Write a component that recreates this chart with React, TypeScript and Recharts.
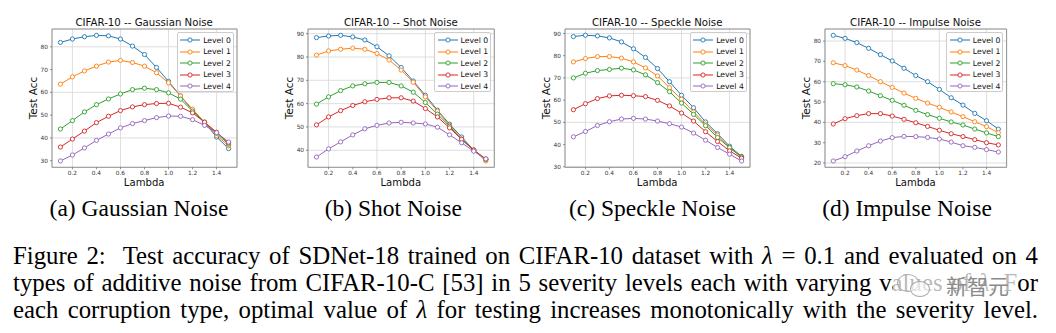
import React from 'react';
import { LineChart, Line, XAxis, YAxis, CartesianGrid, ReferenceArea } from 'recharts';

const lambdas = [0.1, 0.2, 0.3, 0.4, 0.5, 0.6, 0.7, 0.8, 0.9, 1.0, 1.1, 1.2, 1.3, 1.4, 1.5];
const xTicks = [0.2, 0.4, 0.6, 0.8, 1.0, 1.2, 1.4];
const levelNames = ['Level 0', 'Level 1', 'Level 2', 'Level 3', 'Level 4'];
const levelColors = ['#1f77b4', '#ff7f0e', '#2ca02c', '#d62728', '#9467bd'];

const gaussianL0 = [81.9, 83.4, 84.4, 85.0, 84.8, 83.4, 80.3, 76.6, 70.9, 64.8, 58.4, 52.1, 46.7, 40.4, 35.3];
const gaussianL1 = [63.6, 66.8, 69.4, 71.5, 73.3, 74.0, 73.1, 71.5, 68.6, 64.2, 58.4, 52.6, 46.9, 41.1, 36.5];
const gaussianL2 = [43.9, 47.6, 51.4, 54.6, 57.1, 59.3, 61.2, 61.8, 61.2, 59.8, 57.0, 51.8, 46.9, 42.0, 37.2];
const gaussianL3 = [36.0, 39.5, 43.0, 46.7, 49.5, 52.0, 53.6, 54.6, 55.1, 55.2, 53.5, 51.0, 46.9, 42.5, 37.8];
const gaussianL4 = [29.9, 32.5, 35.6, 38.9, 41.7, 44.4, 46.3, 47.6, 48.9, 49.6, 49.5, 48.0, 45.5, 42.3, 38.2];

const shotL0 = [88.3, 89.0, 89.3, 88.6, 87.3, 84.4, 80.5, 75.5, 69.7, 63.6, 57.2, 51.2, 45.7, 40.1, 36.1];
const shotL1 = [80.8, 82.6, 83.3, 83.8, 83.3, 81.5, 78.7, 74.4, 69.2, 62.9, 56.8, 50.7, 44.9, 40.1, 35.4];
const shotL2 = [59.8, 62.9, 65.6, 67.6, 68.5, 69.1, 69.1, 67.6, 64.9, 60.5, 55.5, 50.3, 44.6, 40.0, 36.0];
const shotL3 = [50.9, 54.3, 57.0, 59.2, 60.8, 61.8, 62.5, 62.5, 61.1, 57.9, 54.3, 49.6, 44.7, 40.1, 36.3];
const shotL4 = [37.1, 40.6, 43.6, 46.6, 49.2, 50.7, 51.7, 52.0, 51.7, 51.3, 49.9, 46.6, 43.2, 39.6, 36.3];

const speckleL0 = [88.6, 89.2, 88.9, 88.0, 86.2, 83.1, 79.2, 74.2, 68.3, 62.2, 56.6, 50.2, 44.9, 39.3, 34.7];
const speckleL1 = [77.2, 78.7, 79.6, 79.6, 78.9, 77.2, 74.5, 70.9, 65.6, 60.4, 54.7, 49.2, 44.3, 38.7, 34.4];
const speckleL2 = [70.0, 72.1, 73.3, 73.8, 74.4, 73.6, 71.4, 67.9, 63.8, 58.7, 53.6, 48.5, 43.2, 38.6, 34.4];
const speckleL3 = [55.7, 58.4, 60.7, 61.9, 62.2, 62.0, 61.6, 59.9, 57.4, 54.2, 50.6, 45.8, 41.4, 37.2, 33.9];
const speckleL4 = [43.5, 45.9, 48.6, 50.3, 51.5, 51.8, 51.5, 50.6, 49.4, 47.9, 45.2, 42.0, 38.7, 35.7, 32.6];

const impulseL0 = [82.8, 81.3, 79.2, 76.4, 73.3, 70.2, 66.6, 63.0, 60.0, 56.2, 52.1, 48.5, 44.4, 40.8, 36.7];
const impulseL1 = [69.3, 67.9, 65.7, 63.0, 60.0, 57.2, 54.4, 51.8, 49.5, 47.4, 45.1, 42.8, 40.3, 37.9, 34.9];
const impulseL2 = [59.0, 58.5, 57.4, 55.4, 53.1, 50.8, 48.4, 45.9, 43.8, 42.0, 40.2, 38.7, 36.7, 34.8, 33.0];
const impulseL3 = [39.2, 41.8, 43.3, 44.3, 44.3, 43.1, 41.5, 39.8, 38.0, 36.1, 34.4, 33.0, 31.5, 30.0, 28.9];
const impulseL4 = [21.0, 23.1, 25.9, 28.5, 30.8, 32.5, 33.1, 33.0, 32.6, 31.8, 30.3, 28.5, 27.7, 26.6, 25.4];

const gaussianTicks = [30, 40, 50, 60, 70, 80];
const shotTicks = [40, 50, 60, 70, 80, 90];
const speckleTicks = [30, 40, 50, 60, 70, 80, 90];
const impulseTicks = [20, 30, 40, 50, 60, 70, 80];

const SANS = '"DejaVu Sans", sans-serif';
const SERIF = '"Liberation Serif", "Times New Roman", serif';
const X_DOMAIN: [number, number] = [0.03, 1.57];
const TOP = 29;
const BOTTOM = 167.3;
const CH = 200;

type PanelProps = {
  title: string;
  series: number[][];
  yDomain: [number, number];
  yTicks: number[];
  frameL: number;
  frameR: number;
  caption: string;
  captionX: number;
};

function Panel({ title, series, yDomain, yTicks, frameL, frameR, caption, captionX }: PanelProps) {
  const data = lambdas.map((x, i) => {
    const row: Record<string, number> = { x };
    series.forEach((s, k) => {
      row['l' + k] = s[i];
    });
    return row;
  });
  const fw = frameR - frameL;
  const chartW = fw + 35;
  const legendW = 57;
  const legendL = frameR - 3 - legendW;
  return (
    <>
      <div style={{ position: 'absolute', left: frameL - 30, top: 0 }}>
        <LineChart
          width={chartW}
          height={CH}
          data={data}
          margin={{ top: TOP, right: 5, left: 10, bottom: CH - BOTTOM - 20 }}
        >
          <CartesianGrid stroke="#d6d6d6" strokeWidth={0.8} />
          <XAxis
            dataKey="x"
            type="number"
            domain={X_DOMAIN}
            ticks={xTicks}
            allowDataOverflow
            tickFormatter={(v: number) => v.toFixed(1)}
            tick={{ fontSize: 5.8, fill: '#333', fontFamily: SANS }}
            tickSize={2}
            tickLine={{ stroke: '#666', strokeWidth: 0.7 }}
            axisLine={false}
            height={20}
          />
          <YAxis
            type="number"
            domain={yDomain}
            ticks={yTicks}
            allowDataOverflow
            tick={{ fontSize: 5.8, fill: '#333', fontFamily: SANS }}
            tickSize={2}
            tickLine={{ stroke: '#666', strokeWidth: 0.7 }}
            axisLine={false}
            width={20}
          />
          {series.map((_, k) => (
            <Line
              key={k}
              type="linear"
              dataKey={'l' + k}
              stroke={levelColors[k]}
              strokeWidth={1}
              dot={{ r: 2.1, fill: '#fff', stroke: levelColors[k], strokeWidth: 0.9 }}
              isAnimationActive={false}
            />
          ))}
          <ReferenceArea
            x1={X_DOMAIN[0]}
            x2={X_DOMAIN[1]}
            y1={yDomain[0]}
            y2={yDomain[1]}
            fill="none"
            fillOpacity={0}
            stroke="#8a8a8a"
            strokeWidth={0.9}
          />
        </LineChart>
      </div>
      <div
        style={{
          position: 'absolute', left: frameL, width: fw, top: 16.7, height: 12, lineHeight: '12px',
          textAlign: 'center', fontFamily: SANS, fontSize: 10.2, color: '#111', whiteSpace: 'nowrap',
        }}
      >
        {title}
      </div>
      <div
        style={{
          position: 'absolute', left: frameL, width: fw, top: 176.7, height: 12, lineHeight: '12px',
          textAlign: 'center', fontFamily: SANS, fontSize: 10.1, color: '#111',
        }}
      >
        Lambda
      </div>
      <div
        style={{
          position: 'absolute', left: frameL - 19 - 30, top: 98 - 6, width: 60, height: 12, lineHeight: '12px',
          textAlign: 'center', fontFamily: SANS, fontSize: 10.5, color: '#111', transform: 'rotate(-90deg)',
        }}
      >
        Test Acc
      </div>
      <div
        style={{
          position: 'absolute', left: legendL, top: 32, width: legendW, height: 60, boxSizing: 'border-box',
          border: '0.8px solid #cccccc', borderRadius: 2, background: 'rgba(255,255,255,0.8)', paddingTop: 1.3,
        }}
      >
        {levelNames.map((name, k) => (
          <div key={k} style={{ height: 11.5, display: 'flex', alignItems: 'center' }}>
            <svg width={24} height={8} style={{ marginLeft: 1.5, flex: 'none' }}>
              <line x1={1} y1={4} x2={21} y2={4} stroke={levelColors[k]} strokeWidth={1} />
              <circle cx={11} cy={4} r={2.1} fill="#fff" stroke={levelColors[k]} strokeWidth={0.9} />
            </svg>
            <span style={{ fontFamily: SANS, fontSize: 7.7, color: '#111', whiteSpace: 'nowrap', lineHeight: '9px' }}>
              {name}
            </span>
          </div>
        ))}
      </div>
      <div
        style={{
          position: 'absolute', left: captionX - 150, width: 300, top: 194.5, lineHeight: '26.5px',
          textAlign: 'center', fontFamily: SERIF, fontSize: 23.5, color: '#000', whiteSpace: 'nowrap',
        }}
      >
        {caption}
      </div>
    </>
  );
}

const captionLines = [
  <>Figure 2:&nbsp; Test accuracy of SDNet-18 trained on CIFAR-10 dataset with <i>λ</i> = 0.1 and evaluated on 4</>,
  <>types of additive noise from CIFAR-10-C [53] in 5 severity levels each with varying values of <i>λ</i>. For</>,
  <>each corruption type, optimal value of <i>λ</i> for testing increases monotonically with the severity level.</>,
];

export default function App() {
  return (
    <div style={{ position: 'absolute', left: 0, top: 0, width: 1056, height: 333, background: '#fff', overflow: 'hidden' }}>
      <Panel
        title="CIFAR-10 -- Gaussian Noise"
        series={[gaussianL0, gaussianL1, gaussianL2, gaussianL3, gaussianL4]}
        yDomain={[27.1, 87.8]}
        yTicks={gaussianTicks}
        frameL={51.7}
        frameR={236.7}
        caption="(a) Gaussian Noise"
        captionX={139}
      />
      <Panel
        title="CIFAR-10 -- Shot Noise"
        series={[shotL0, shotL1, shotL2, shotL3, shotL4]}
        yDomain={[32.7, 92.0]}
        yTicks={shotTicks}
        frameL={307.7}
        frameR={494}
        caption="(b) Shot Noise"
        captionX={393.3}
      />
      <Panel
        title="CIFAR-10 -- Speckle Noise"
        series={[speckleL0, speckleL1, speckleL2, speckleL3, speckleL4]}
        yDomain={[29.8, 92.0]}
        yTicks={speckleTicks}
        frameL={564.7}
        frameR={749.7}
        caption="(c) Speckle Noise"
        captionX={652.5}
      />
      <Panel
        title="CIFAR-10 -- Impulse Noise"
        series={[impulseL0, impulseL1, impulseL2, impulseL3, impulseL4]}
        yDomain={[17.9, 85.9]}
        yTicks={impulseTicks}
        frameL={824.7}
        frameR={1006.3}
        caption="(d) Impulse Noise"
        captionX={907}
      />
      {captionLines.map((line, i) => (
        <div
          key={i}
          style={{
            position: 'absolute', left: 13, width: 1025, top: 242 + i * 27, lineHeight: '27px',
            fontFamily: SERIF, fontSize: 24.8, color: '#000', textAlign: 'justify', textAlignLast: 'justify',
          }}
        >
          {line}
        </div>
      ))}
      <div
        style={{
          position: 'absolute', left: 893, top: 272, width: 124, height: 27, background: 'rgba(255,255,255,0.72)',
        }}
      />
      <div style={{ position: 'absolute', left: 897, top: 274, width: 20, height: 16, borderRadius: '50%', border: '1px solid #aaa' }} />
      <div style={{ position: 'absolute', left: 910, top: 281, width: 18, height: 14, borderRadius: '50%', border: '1px solid #aaa', background: 'rgba(255,255,255,0.6)' }} />
      <div
        style={{
          position: 'absolute', left: 946, top: 272, lineHeight: '26px', fontFamily: '"Noto Sans CJK SC", sans-serif',
          fontSize: 21, color: '#8a8a8a', whiteSpace: 'nowrap',
        }}
      >
        新智元
      </div>
    </div>
  );
}
